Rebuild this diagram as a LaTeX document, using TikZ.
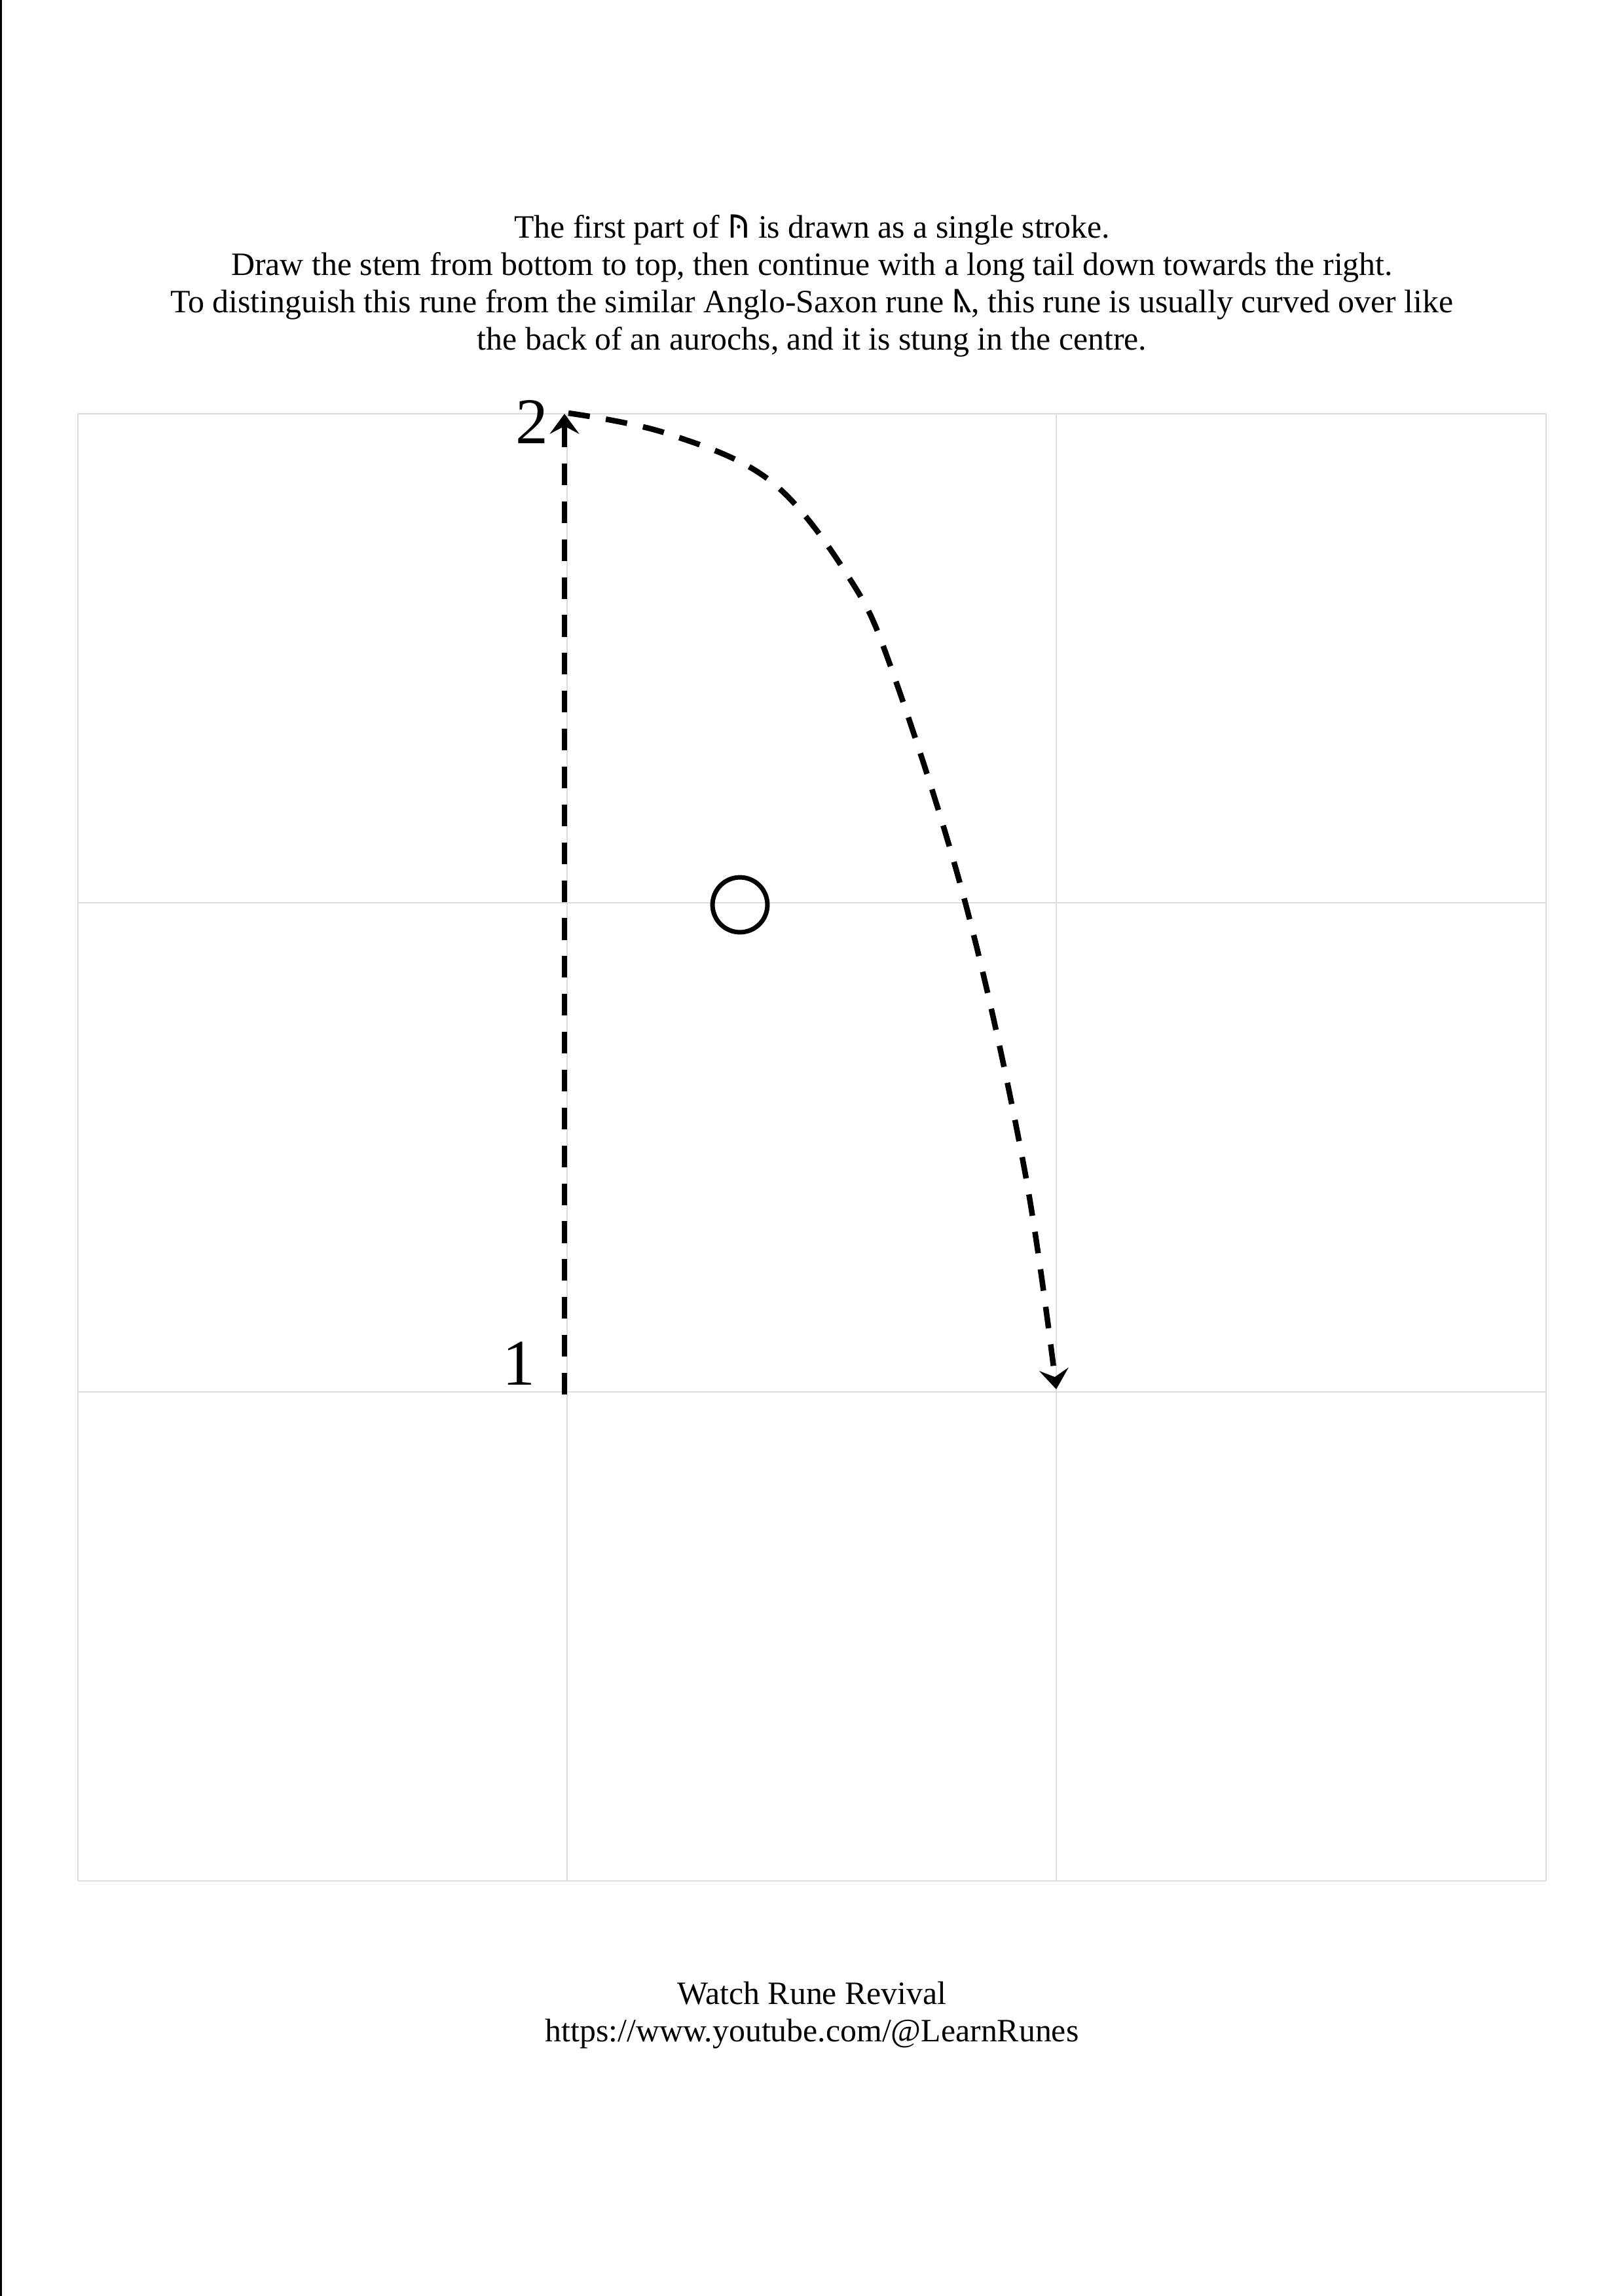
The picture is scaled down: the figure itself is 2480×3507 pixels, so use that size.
\documentclass[tikz,border=0pt]{standalone}
\usepackage{fontspec}
\setmainfont{Liberation Serif}
\IfFontExistsTF{Noto Sans Runic}{\newfontfamily\runefont{Noto Sans Runic}}{%
  \IfFontExistsTF{Junicode}{\newfontfamily\runefont{Junicode}}{\newfontfamily\runefont{DejaVu Sans}}}
\usetikzlibrary{arrows.meta}
\definecolor{gridgray}{RGB}{221,221,221}

\begin{document}
\begin{tikzpicture}[x=0.0846774mm, y=-0.0846774mm,
    gridline/.style={draw=gridgray, line width=0.17mm},
    stroke/.style={line width=0.72mm, dash pattern=on 2.8mm off 2.1mm,
      -{Stealth[length=2.6mm, width=3.8mm, inset=1mm]}},
    caption/.style={anchor=base, inner sep=0pt, font=\fontsize{12}{14}\selectfont},
    number/.style={anchor=base, inner sep=0pt, font=\fontsize{24}{28}\selectfont}]
    \useasboundingbox (0,0) rectangle (2480,3507);
    \draw[line width=0.25mm] (1.5,0) -- (1.5,3507);

    % the 3x3 grid
    \foreach \gx in {119,866,1613,2361}
        \draw[gridline] (\gx,632) -- (\gx,2873);
    \foreach \gy in {632,1379,2126,2873}
        \draw[gridline] (119,\gy) -- (2361,\gy);

    \node[caption] (line1) at (1240,363) {The first part of {\runefont ᚤ} is drawn as a single stroke.};
    \node[caption] (line2) at (1240,420) {Draw the stem from bottom to top, then continue with a long tail down towards the right.};
    \node[caption] (line3) at (1240,477) {To distinguish this rune from the similar Anglo-Saxon rune {\runefont ᚣ}, this rune is usually curved over like};
    \node[caption] (line4) at (1240,534) {the back of an aurochs, and it is stung in the centre.};

    \coordinate (stembottom) at (862,2130);
    \coordinate (stemtop) at (862,632);
    \coordinate (tailend) at (1613,2122);
    \node[number] (one) at (792,2115) {1};
    \node[number] (two) at (812,677) {2};
    \node[draw, circle, line width=0.59mm, minimum size=7.1mm, inner sep=0pt] (sting) at (1130,1382) {};

    \draw[stroke] (stembottom) -- (stemtop);
    \draw[stroke] plot[smooth, tension=0.6] coordinates {(868,631) (1018,662) (1177,735) (1297,883) (1364,1029)
        (1476,1386) (1565,1789) (tailend)};

    \node[caption] (watch) at (1240,3061) {Watch Rune Revival};
    \node[caption] (link) at (1240,3118) {https://www.youtube.com/@LearnRunes};
\end{tikzpicture}
\end{document}
